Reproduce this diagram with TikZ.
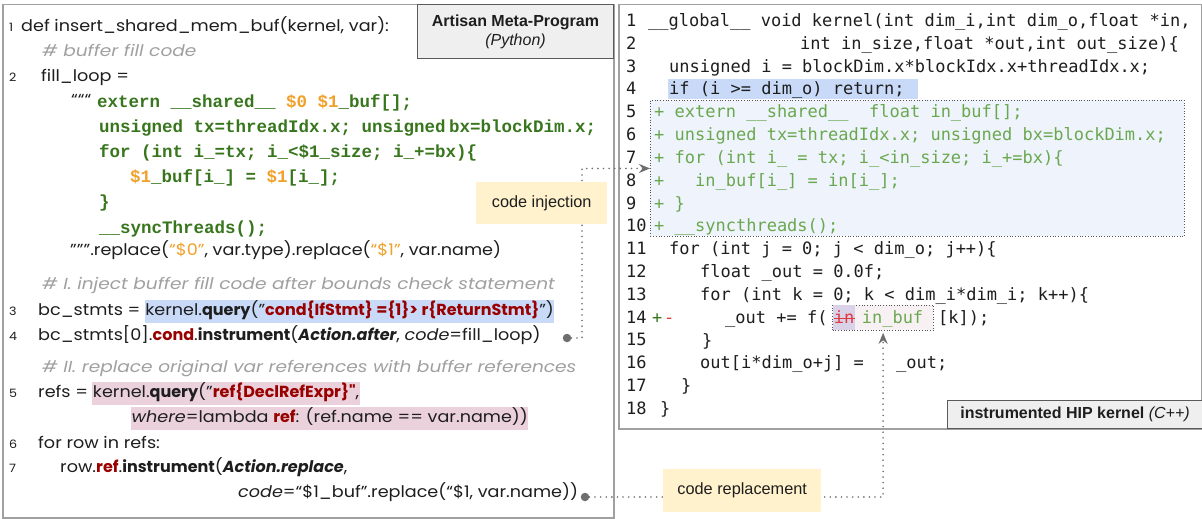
\documentclass[tikz,border=0pt]{standalone}
\usepackage{fontspec}
\setmainfont{Poppins}[FakeStretch=1.10]
\newfontfamily\pbold{Poppins}
\newfontfamily\comfont{Poppins}[FakeStretch=1.16]
\newfontfamily\labfont{Liberation Sans}
\newfontfamily\lmono{Liberation Mono}
\newfontfamily\rmono{DejaVu Sans Mono}
\newcommand\kb[1]{{\pbold\bfseries #1}}
\newcommand\kbi[1]{{\pbold\bfseries\itshape #1}}
\usetikzlibrary{arrows.meta,calc,fit,backgrounds}
\definecolor{txt}{HTML}{1E1E1E}
\definecolor{cgreen}{HTML}{38761D}
\definecolor{corange}{HTML}{F1A12A}
\definecolor{cgray}{HTML}{A0A0A0}
\definecolor{cred}{HTML}{990000}
\definecolor{hblue}{HTML}{C9DAF8}
\definecolor{hpink}{HTML}{EAD1DC}
\definecolor{rgreen}{HTML}{6AA84F}
\definecolor{hlight}{HTML}{EEF3FC}
\definecolor{cyellow}{HTML}{FFF2CC}
\definecolor{lbox}{HTML}{EFEFEF}
\definecolor{lbdraw}{HTML}{5A5A5A}
\definecolor{strikered}{HTML}{E0393E}
\definecolor{lav}{HTML}{D9D2E9}
\definecolor{lpink}{HTML}{F8F1F4}
\definecolor{border}{HTML}{A0A0A0}
\definecolor{conncol}{HTML}{6E6E6E}
\definecolor{dotdraw}{HTML}{555555}
\tikzset{
  basew/.style={anchor=base west, inner sep=0pt},
  ptxt/.style={basew, font=\fontsize{16}{19}\selectfont, text=txt},
  pnum/.style={basew, font=\fontsize{11.5}{14}\selectfont, text=txt},
  pcom/.style={basew, font=\comfont\itshape\fontsize{16}{19}\selectfont, text=cgray},
  lcode/.style={basew, font=\lmono\bfseries\fontsize{17.5}{20}\selectfont, text=cgreen},
  rcode/.style={basew, font=\rmono\fontsize{17}{20}\selectfont, text=txt},
  rgcode/.style={rcode, text=rgreen},
  hl/.style={inner xsep=0.5pt, text height=14pt, text depth=5pt, inner ysep=2pt},
  panel/.style={draw=border, line width=1.5pt, anchor=north west, inner sep=0pt},
  labelbox/.style={draw=lbdraw, fill=lbox, line width=1pt, anchor=north west, inner sep=0pt, text=txt, font=\labfont\fontsize{16}{19}\selectfont, align=center},
  notebox/.style={fill=cyellow, anchor=north west, inner sep=0pt, text=txt, font=\labfont\fontsize{16.3}{19}\selectfont},
  conn/.style={draw=conncol, line width=1.8pt, line cap=round, dash pattern=on 0pt off 5.6pt, -{Stealth[length=11pt,width=9pt]}},
  dotend/.style={circle, fill=conncol, inner sep=0pt, minimum size=8.5pt},
  dotbox/.style={draw=dotdraw, line width=0.9pt, dash pattern=on 0.9pt off 1.8pt},
}
\begin{document}
\begin{tikzpicture}[x=1pt,y=-1pt]
\useasboundingbox (0,0) rectangle (1202,519);
\begin{scope}[on background layer]\fill[white] (0,0) rectangle (1202,519);\end{scope}
% panels
\node[panel, minimum width=611pt, minimum height=513pt] (lp) at (2,4) {};
\node[panel, minimum width=583pt, minimum height=424pt] (rp) at (618,4) {};
% right highlights
\fill[hblue] (668,79) rectangle (918,99);
\node[dotbox, fill=hlight, minimum width=534pt, minimum height=136pt, anchor=north west, inner sep=0pt] (inj) at (650,100) {};
% right code
\foreach \n in {1,...,18} \node[rcode] (rn\n) at (626,{26.5+(\n-1)*22.82}) {\n};
\node[rcode] (r1) at (648,26.5) {\_\_global\_\_ void kernel(int dim\_i,int dim\_o,float *in,};
\node[rcode] (r2) at (800,49.3) {int in\_size,float *out,int out\_size)\{};
\node[rcode] (r3) at (669,72.1) {unsigned i = blockDim.x*blockIdx.x+threadIdx.x;};
\node[rcode] (r4) at (669,95.0) {if (i >= dim\_o) return;};
\node[rgcode] (r5) at (654,117.8) {+ extern \_\_shared\_\_\ \ float in\_buf[];};
\node[rgcode] (r6) at (654,140.6) {+ unsigned tx=threadIdx.x; unsigned bx=blockDim.x;};
\node[rgcode] (r7) at (654,163.4) {+ for (int i\_ = tx; i\_<in\_size; i\_+=bx)\{};
\node[rgcode] (r8) at (654,186.2) {+\ \ \ in\_buf[i\_] = in[i\_];};
\node[rgcode] (r9) at (654,209.1) {+ \}};
\node[rgcode] (r10) at (654,231.9) {+ \_\_syncthreads();};
\node[rcode] (r11) at (669,254.7) {for (int j = 0; j < dim\_o; j++)\{};
\node[rcode] (r12) at (700,277.5) {float \_out = 0.0f;};
\node[rcode] (r13) at (700,300.3) {for (int k = 0; k < dim\_i*dim\_i; k++)\{};
\node[rcode, text=cgreen] (p14) at (652,323.2) {+};
\node[rcode, text=strikered] (m14) at (664,323.2) {-};
\node[rcode] (t14) at (725,323.2) {\_out += f(};
\node[rcode, fill=lav, text=strikered, inner xsep=1pt, text height=15pt, text depth=4pt, inner ysep=3pt] (inw) at ($(t14.base east)+(5,0)$) {in};
\draw[strikered, line width=1.3pt] ($(inw.base west)+(1,-5)$) -- ($(inw.base east)+(-1,-5)$);
\node[rgcode] (ib) at ($(inw.base east)+(6,0)$) {in\_buf};
\coordinate (ibx) at ($(ib.base east)+(10,7)$);
\begin{scope}[on background layer]
\node[dotbox, fill=lpink, fit=(inw)(ib)(ibx), inner sep=0pt] (rep) {};
\end{scope}
\node[rcode] (k14) at (938,323.2) {[k]);};
\node[rcode] (r15) at (702,346.0) {\}};
\node[rcode] (r16) at (700,368.8) {out[i*dim\_o+j] =};
\node[rcode] (r16b) at (896,368.8) {\_out;};
\node[rcode] (r17) at (681,391.6) {\}};
\node[rcode] (r18) at (660,414.4) {\}};
% left panel
\node[pnum] (ln1) at (9,32) {1};
\node[ptxt] (l1) at (21,32) {def insert\_shared\_mem\_buf(kernel, var):};
\node[pcom] (lc1) at (42,56.5) {\# buffer fill code};
\node[pnum] (ln2) at (9,81.5) {2};
\node[ptxt] (l2) at (41,81.5) {fill\_loop =};
\node[ptxt] (lq) at (71,105) {“““};
\node[lcode] (g1) at (97,107) {extern \_\_shared\_\_ \textcolor{corange}{\$0 \$1}\_buf[];};
\node[lcode] (g2) at (99,132) {unsigned tx=threadIdx.x; unsigned\hspace{-7pt} bx=blockDim.x;};
\node[lcode] (g3) at (99,157) {for (int i\_=tx; i\_<\$1\_size; i\_+=bx)\{};
\node[lcode] (g4) at (130,182) {\textcolor{corange}{\$1}\_buf[i\_] = \textcolor{corange}{\$1}[i\_];};
\node[lcode] (g5) at (99,207) {\}};
\node[lcode] (g6) at (99,233) {\_\_syncThreads();};
\node[ptxt] (lr) at (70,255.5) {”””.replace(\textcolor{corange}{“\$0”}, var.type).replace(\textcolor{corange}{“\$1”}, var.name)};
\node[pcom] (lc2) at (42,289.5) {\# I. inject buffer fill code after bounds check statement};
\node[pnum] (ln3) at (9,315.5) {3};
\node[ptxt] (l3a) at (38,315.5) {bc\_stmts =};
\node[ptxt, hl, fill=hblue] (l3b) at ($(l3a.base east)+(4,0)$) {kernel.\kb{query}("\textcolor{cred}{\kb{cond\{IfStmt\} =\{1\}> r\{ReturnStmt\}}}")};
\node[pnum] (ln4) at (9,340.5) {4};
\node[ptxt] (l4) at (38,340.5) {bc\_stmts[0].\textcolor{cred}{\kb{cond}}.\kb{instrument}(\kbi{Action.after}, \textit{code}=fill\_loop)};
\node[dotend] (d1) at (567,338) {};
\node[pcom] (lc3) at (42,372.5) {\# II. replace original var references with buffer references};
\node[pnum] (ln5) at (9,397.5) {5};
\node[ptxt] (l5a) at (38,397.5) {refs =};
\node[ptxt, hl, fill=hpink] (l5b) at ($(l5a.base east)+(4,0)$) {kernel.\kb{query}("\textcolor{cred}{\kb{ref\{DeclRefExpr\}"}},};
\node[ptxt, hl, fill=hpink] (l5c) at (131,422.5) {\textit{where}=lambda \textcolor{cred}{\kb{ref}}: (ref.name == var.name))};
\node[pnum] (ln6) at (9,448) {6};
\node[ptxt] (l6) at (38,448) {for row in refs:};
\node[pnum] (ln7) at (9,472.5) {7};
\node[ptxt] (l7) at (60,472.5) {row.\textcolor{cred}{\kb{ref}}.\kb{instrument}(\kbi{Action.replace},};
\node[ptxt] (l7b) at (238,497.5) {\textit{code}=“\$1\_buf”.replace(“\$1, var.name))};
\node[dotend] (d2) at (585,497) {};
% connectors
\coordinate (c1) at (582,0);
\draw[conn] (d1.east) -- (d1.east -| c1) |- (inj.west);
\draw[conn, shorten >=2pt] (d2.east) -| (rep.south);
% notes and labels
\node[notebox, minimum width=131pt, minimum height=42pt] (ci) at (476,182) {code injection};
\node[notebox, minimum width=158pt, minimum height=43pt] (cr) at (663,469) {code replacement};
\node[labelbox, minimum width=196pt, minimum height=54pt] (lab1) at (417,4) {\textbf{Artisan Meta-Program}\\\textit{(Python)}};
\node[labelbox, minimum width=255pt, minimum height=28pt] (lab2) at (947,400) {\textbf{instrumented HIP kernel} \textit{(C++)}};
\end{tikzpicture}
\end{document}
